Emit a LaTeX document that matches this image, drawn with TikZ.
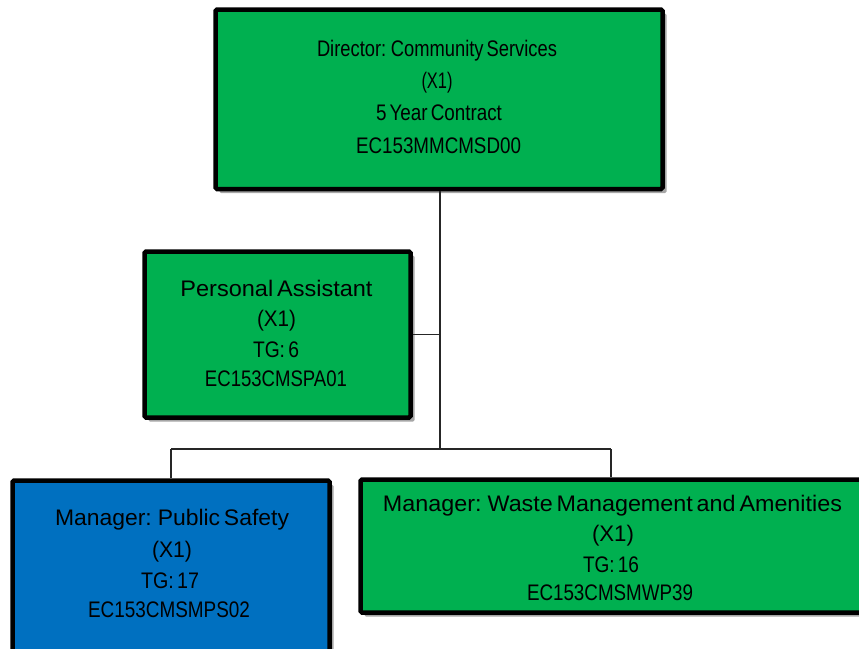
\documentclass[tikz,border=0pt]{standalone}
\usepackage{fontspec}
\setmainfont[WordSpace=0.6]{Liberation Sans}
\usepackage{graphicx}
\usetikzlibrary{shadows}
\definecolor{boxgreen}{RGB}{0,176,80}
\definecolor{boxblue}{RGB}{0,112,192}
% set a line of text to a given width, keeping its height
\newcommand\fitline[2]{\resizebox{#1pt}{\height}{#2}}
\begin{document}
\begin{tikzpicture}[x=1pt,y=-1pt,
  post/.style={draw=black, line width=4.5pt, rounded corners=1.5pt, inner sep=0pt,
    drop shadow={shadow xshift=4pt, shadow yshift=-4pt, fill=black!35, opacity=1}},
  txt/.style={anchor=base, inner sep=0pt, font=\fontsize{22.5}{27}\selectfont},
  link/.style={draw=black!85, line width=1.3pt}]
\useasboundingbox (0,0) rectangle (859,648);
\clip (0,0) rectangle (859,648);

% position boxes
\node[post, fill=boxgreen, minimum width=447pt, minimum height=179.5pt] (dir) at (439,99.25) {};
\node[post, fill=boxgreen, minimum width=266pt, minimum height=166pt] (pa) at (277.5,334.5) {};
\node[post, fill=boxblue, minimum width=317pt, minimum height=220pt] (ps) at (171,590.5) {};
\node[post, fill=boxgreen, minimum width=501pt, minimum height=133pt] (wm) at (611,546) {};

% reporting lines
\coordinate (jc) at (440,449);
\coordinate (jl) at (171,449);
\coordinate (jr) at (611,449);
\draw[link] (dir.south -| jc) -- (jc);
\draw[link] (pa.east) -- (pa.east -| jc);
\draw[link] (jl) -- (jr);
\draw[link] (jl) -- (ps.north);
\draw[link] (jr) -- (wm.north);

% Director
\node[txt] (d1) at (437,56) {\fitline{240}{Director: Community Services}};
\node[txt] (d2) at (437,88) {\fitline{31}{(X1)}};
\node[txt] (d3) at (439,120) {\fitline{126}{5 Year Contract}};
\node[txt] (d4) at (438.5,153) {\fitline{165}{EC153MMCMSD00}};

% Personal Assistant
\node[txt] (p1) at (276.5,296) {\fitline{192}{Personal Assistant}};
\node[txt] (p2) at (276.5,326.5) {\fitline{39}{(X1)}};
\node[txt] (p3) at (276,357) {\fitline{46}{TG: 6}};
\node[txt] (p4) at (276,386) {\fitline{142}{EC153CMSPA01}};

% Public Safety
\node[txt] (s1) at (172,525) {\fitline{234}{Manager: Public Safety}};
\node[txt] (s2) at (172,557) {\fitline{40}{(X1)}};
\node[txt] (s3) at (170,588) {\fitline{58}{TG: 17}};
\node[txt] (s4) at (169,617) {\fitline{162}{EC153CMSMPS02}};

% Waste Management and Amenities
\node[txt] (w1) at (612.5,511) {\fitline{459}{Manager: Waste Management and Amenities}};
\node[txt] (w2) at (613,541.5) {\fitline{42}{(X1)}};
\node[txt] (w3) at (611,572) {\fitline{56}{TG: 16}};
\node[txt] (w4) at (610,600) {\fitline{166}{EC153CMSMWP39}};
\end{tikzpicture}
\end{document}
